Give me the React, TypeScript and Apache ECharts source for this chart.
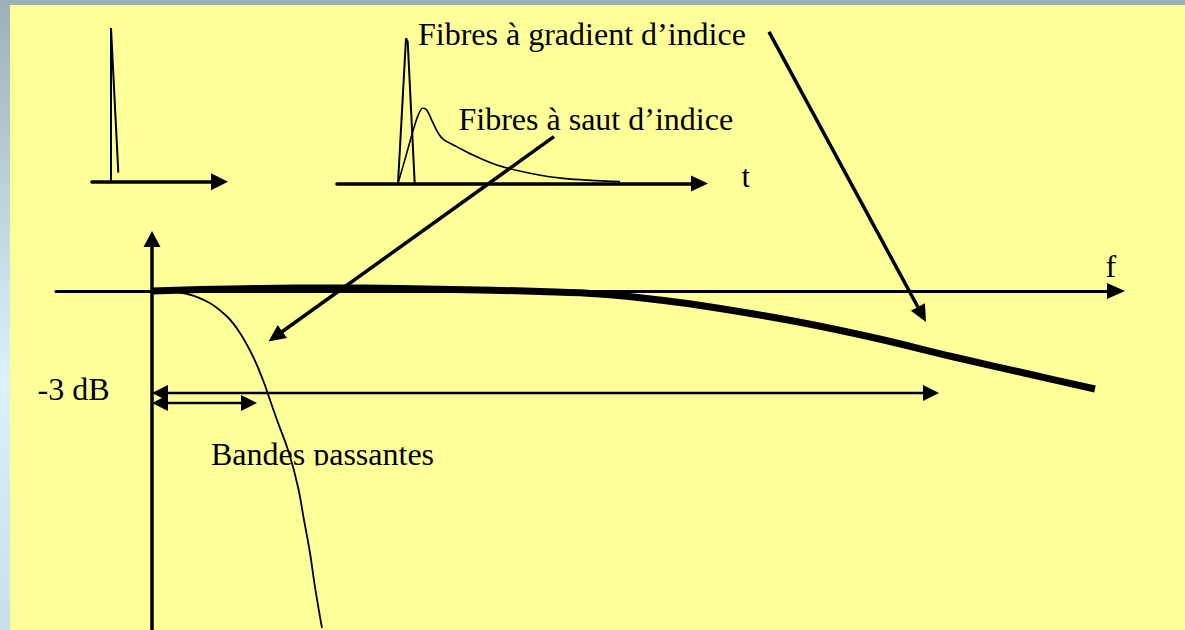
import React, { useEffect, useRef } from "react";
import * as echarts from "echarts";

// Frequency response: [frequency (arb. units), attenuation (dB)]
const gradedIndexResponse: number[][] = [
  [0, 0], [0.48, 0.044], [1.08, 0.074], [1.78, 0.088], [2.48, 0.074], [3.28, 0.029],
  [3.88, -0.015], [4.48, -0.088], [5.08, -0.265], [5.65, -0.5], [6.44, -0.897],
  [7.23, -1.382], [8.02, -1.941], [8.81, -2.471], [9.43, -2.882],
];
const stepIndexResponse: number[][] = [
  [0, 0], [0.28, -0.044], [0.55, -0.309], [0.75, -0.75], [0.88, -1.235], [1.01, -1.926],
  [1.11, -2.618], [1.18, -3.206], [1.25, -3.794], [1.37, -4.765], [1.46, -5.765],
  [1.52, -6.735], [1.58, -7.706], [1.63, -8.706], [1.7, -9.912],
];

// Pulses: [time (arb. units), relative amplitude]
const inputPulse: number[][] = [[1.9, 0], [1.9, 1], [2.63, 0.059]];
const gradedIndexPulse: number[][] = [[6.1, 0], [6.9, 0.934], [7.07, 0.912], [7.77, 0]];
const stepIndexPulse: number[][] = [
  [6.1, 0], [6.97, 0.194], [7.63, 0.344], [8.13, 0.441], [8.57, 0.484], [8.97, 0.473],
  [9.47, 0.408], [10.13, 0.323], [10.63, 0.284], [11.97, 0.237], [13.6, 0.183],
  [15.97, 0.119], [19.3, 0.066], [22.6, 0.033], [28.3, 0.012],
];

// Arrows in frequency-response coordinates: [fromF, fromDb, toF, toDb]
const labelArrows: number[][] = [
  [6.17, 7.618, 7.74, -0.912],
  [4.02, 4.538, 1.165, -1.485],
];
const bandwidthArrows: number[][] = [
  [0, -3, 7.87, -3],
  [0, -3.294, 1.05, -3.294],
];

const labelTexts = ["Fibres à gradient d’indice", "Fibres à saut d’indice", "t", "f", "-3 dB", "Bandes passantes"];

const FONT = "'Liberation Serif', 'Times New Roman', serif";
const FS = 32;

function arrowRenderer(double: boolean, lineWidth: number, headLen: number, headWidth: number) {
  return (_params: any, api: any) => {
    const a = api.coord([api.value(0), api.value(1)]);
    const b = api.coord([api.value(2), api.value(3)]);
    const dx = b[0] - a[0];
    const dy = b[1] - a[1];
    const len = Math.hypot(dx, dy) || 1;
    const ux = dx / len;
    const uy = dy / len;
    const nx = -uy;
    const ny = ux;
    const head = (tip: number[], dir: number[]) => {
      const bx = tip[0] - dir[0] * headLen;
      const by = tip[1] - dir[1] * headLen;
      return {
        type: "polygon",
        shape: {
          points: [
            [tip[0], tip[1]],
            [bx + (nx * headWidth) / 2, by + (ny * headWidth) / 2],
            [bx - (nx * headWidth) / 2, by - (ny * headWidth) / 2],
          ],
        },
        style: { fill: "#000" },
      };
    };
    const s = double ? [a[0] + ux * headLen * 0.5, a[1] + uy * headLen * 0.5] : a;
    const e = [b[0] - ux * headLen * 0.5, b[1] - uy * headLen * 0.5];
    const children: any[] = [
      { type: "line", shape: { x1: s[0], y1: s[1], x2: e[0], y2: e[1] }, style: { stroke: "#000", lineWidth } },
      head(b, [ux, uy]),
    ];
    if (double) children.push(head(a, [-ux, -uy]));
    return { type: "group", children };
  };
}

const hiddenAxisParts = {
  axisTick: { show: false },
  axisLabel: { show: false },
  splitLine: { show: false },
};

function textEl(text: string, x: number, baseline: number) {
  return {
    type: "text",
    x,
    y: baseline - FS * 0.33,
    style: { text, fill: "#000", fontSize: FS, fontFamily: FONT, align: "left", verticalAlign: "middle" },
  };
}

export default function App() {
  const ref = useRef<HTMLDivElement>(null);
  useEffect(() => {
    if (!ref.current) return;
    const chart = echarts.init(ref.current, null, { renderer: "svg" });
    chart.setOption({
      animation: false,
      backgroundColor: "#ffff99",
      grid: [
        { left: 56, right: 69, top: 239, bottom: 0 },
        { left: 92, top: 28, width: 127.5, height: 153.7 },
        { left: 337, top: 28, width: 362.5, height: 155.5 },
      ],
      xAxis: [
        {
          gridIndex: 0, type: "value", min: -0.96, max: 9.64,
          axisLine: { show: true, onZero: true, symbol: ["none", "triangle"], symbolSize: [16, 18], lineStyle: { color: "#000", width: 3 } },
          ...hiddenAxisParts,
        },
        {
          gridIndex: 1, type: "value", min: 0, max: 12.75, position: "bottom",
          axisLine: { show: true, onZero: false, symbol: ["none", "triangle"], symbolSize: [17, 17], lineStyle: { color: "#000", width: 3.5 } },
          ...hiddenAxisParts,
        },
        {
          gridIndex: 2, type: "value", min: 0, max: 36.25, position: "bottom",
          axisLine: { show: true, onZero: false, symbol: ["none", "triangle"], symbolSize: [16, 17], lineStyle: { color: "#000", width: 3.5 } },
          ...hiddenAxisParts,
        },
      ],
      yAxis: [
        {
          gridIndex: 0, type: "value", min: -9.97, max: 1.529,
          axisLine: { show: true, onZero: true, symbol: ["none", "triangle"], symbolSize: [17, 16], lineStyle: { color: "#000", width: 3.5 } },
          ...hiddenAxisParts,
        },
        { gridIndex: 1, type: "value", min: 0, max: 1, show: false },
        { gridIndex: 2, type: "value", min: 0, max: 1, show: false },
      ],
      graphic: [
        { type: "rect", shape: { x: 0, y: 0, width: 1185, height: 5 }, style: { fill: "#9eb0b7" } },
        {
          type: "rect",
          shape: { x: 0, y: 0, width: 10, height: 630 },
          style: {
            fill: new echarts.graphic.LinearGradient(0, 0, 0, 1, [
              { offset: 0, color: "#9eb0b7" },
              { offset: 0.6, color: "#dbf1fc" },
              { offset: 1, color: "#c8dee8" },
            ]),
          },
        },
        textEl(labelTexts[0], 418, 44.3),
        textEl(labelTexts[1], 458.5, 130),
        textEl(labelTexts[2], 741.5, 186.7),
        textEl(labelTexts[3], 1105.5, 276.7),
        textEl(labelTexts[4], 37.5, 400),
        textEl(labelTexts[5], 211, 465),
        { type: "rect", shape: { x: 205, y: 465.5, width: 240, height: 16 }, style: { fill: "#ffff99" } },
        { type: "rect", shape: { x: 749.5, y: 160, width: 20, height: 35 }, style: { fill: "#ffff99" } },
      ],
      series: [
        {
          type: "line", xAxisIndex: 0, yAxisIndex: 0, data: gradedIndexResponse, smooth: 0.4,
          symbol: "none", lineStyle: { color: "#000", width: 7 }, silent: true,
        },
        {
          type: "line", xAxisIndex: 0, yAxisIndex: 0, data: stepIndexResponse, smooth: 0.4,
          symbol: "none", lineStyle: { color: "#000", width: 1.8 }, silent: true,
        },
        {
          type: "custom", xAxisIndex: 0, yAxisIndex: 0, data: labelArrows, clip: false,
          encode: { x: [0, 2], y: [1, 3] }, renderItem: arrowRenderer(false, 3.5, 17, 16), silent: true,
        },
        {
          type: "custom", xAxisIndex: 0, yAxisIndex: 0, data: bandwidthArrows, clip: false,
          encode: { x: [0, 2], y: [1, 3] }, renderItem: arrowRenderer(true, 2.5, 16, 16), silent: true,
        },
        {
          type: "line", xAxisIndex: 1, yAxisIndex: 1, data: inputPulse,
          symbol: "none", lineStyle: { color: "#000", width: 2 }, silent: true,
        },
        {
          type: "line", xAxisIndex: 2, yAxisIndex: 2, data: gradedIndexPulse,
          symbol: "none", lineStyle: { color: "#000", width: 2 }, silent: true,
        },
        {
          type: "line", xAxisIndex: 2, yAxisIndex: 2, data: stepIndexPulse, smooth: 0.35,
          symbol: "none", lineStyle: { color: "#000", width: 1.6 }, silent: true,
        },
      ],
    });
    return () => chart.dispose();
  }, []);
  return <div ref={ref} style={{ position: "fixed", left: 0, top: 0, width: 1185, height: 630 }} />;
}
